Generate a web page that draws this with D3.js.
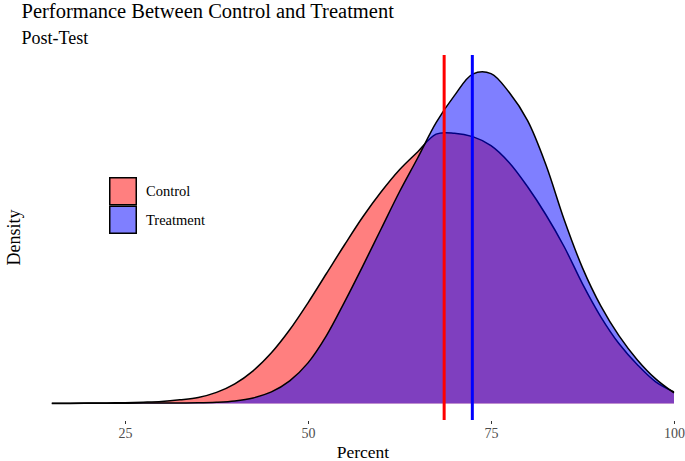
<!DOCTYPE html>
<html><head><meta charset="utf-8">
<script src="https://cdn.jsdelivr.net/npm/d3@7"></script>
<style>body{margin:0;background:#fff}svg{display:block}text{font-family:"Liberation Serif","Times New Roman",serif}</style>
</head><body>
<svg id="c" width="685" height="461"></svg>
<script>
const percent   = [15, 17.5, 20, 22.5, 25, 27.5, 30, 32.5, 35, 37.5, 40, 42.5, 45, 47.5, 50, 52.5, 55, 57.5, 60, 62.5, 65, 67.5, 70, 72.5, 75, 77.5, 80, 82.5, 85, 87.5, 90, 92.5, 95, 97.5, 100];
const control   = [0.00001, 0.00002, 0.00003, 0.00004, 0.00006, 0.0001, 0.00016, 0.0003, 0.0005, 0.00093, 0.00165, 0.00275, 0.00427, 0.00621, 0.00849, 0.01094, 0.01339, 0.01575, 0.01786, 0.01972, 0.02124, 0.02272, 0.0228, 0.02251, 0.02175, 0.02031, 0.01828, 0.01592, 0.01322, 0.01009, 0.00731, 0.00503, 0.00326, 0.00182, 0.00097];
const treatment = [0, 0, 0.00001, 0.00001, 0.00002, 0.00003, 0.00003, 0.00004, 0.00005, 0.0001, 0.00021, 0.00046, 0.00097, 0.0019, 0.00342, 0.0057, 0.00857, 0.01161, 0.01474, 0.01786, 0.02073, 0.02369, 0.02597, 0.02779, 0.02783, 0.02623, 0.02386, 0.02014, 0.0155, 0.01144, 0.00823, 0.0057, 0.00367, 0.00207, 0.00089];
const means = {Control: 68.6, Treatment: 72.45};
const xTicks = [25, 50, 75, 100];
const groups = ["Control", "Treatment"];
const fills = {Control: "#FF0000", Treatment: "#0000FF"};

const svg = d3.select("#c");
const panel = {top: 55, bottom: 420};
const x = d3.scaleLinear().domain([10.75, 104.25]).range([20.7, 705.1]);
const maxD = 0.028;
const y = d3.scaleLinear().domain([-maxD*0.05, maxD*1.05]).range([panel.bottom, panel.top]);

const series = {Control: control, Treatment: treatment};
const curve = d3.curveCatmullRom.alpha(0.5);
const area = d3.area().x((d,i)=>x(percent[i])).y0(y(0)).y1(d=>y(d)).curve(curve);
const line = d3.line().x((d,i)=>x(percent[i])).y(d=>y(d)).curve(curve);

groups.forEach(g=>{
  svg.append("path").datum(series[g]).attr("d", area).attr("fill", fills[g]).attr("fill-opacity", 0.5);
  svg.append("path").datum(series[g]).attr("d", line).attr("fill","none").attr("stroke","#000").attr("stroke-width",1.5);
});

groups.forEach(g=>{
  svg.append("line").attr("x1", x(means[g])).attr("x2", x(means[g]))
    .attr("y1", panel.top).attr("y2", panel.bottom)
    .attr("stroke", fills[g]).attr("stroke-width", 3);
});

// x axis
const ax = svg.append("g").attr("transform", `translate(0,${panel.bottom+1})`)
  .call(d3.axisBottom(x).tickValues(xTicks).tickSize(3).tickPadding(4));
ax.select(".domain").remove();
ax.selectAll(".tick line").attr("stroke","#333").attr("stroke-width",1);
ax.selectAll(".tick text").attr("fill","#4D4D4D").style("font-size","14px").style("font-family","Liberation Serif");

svg.append("text").attr("x", x(57.5)).attr("y", 458).attr("text-anchor","middle")
  .style("font-size","17.5px").attr("fill","#000").text("Percent");
svg.append("text").attr("transform", `translate(20,${(panel.top+panel.bottom)/2}) rotate(-90)`)
  .attr("text-anchor","middle").style("font-size","18px").text("Density");

svg.append("text").attr("x", 21.5).attr("y", 18).style("font-size","20.5px").text("Performance Between Control and Treatment");
svg.append("text").attr("x", 21.5).attr("y", 44).style("font-size","18px").text("Post-Test");

// legend
const lg = svg.append("g").attr("transform","translate(109,177)");
groups.forEach((g,i)=>{
  lg.append("rect").attr("x",0.75).attr("y", i*28.5+0.75).attr("width",26.5).attr("height",27)
    .attr("fill", fills[g]).attr("fill-opacity",0.5).attr("stroke","#000").attr("stroke-width",1.5);
  lg.append("text").attr("x", 37).attr("y", i*28.5+14).attr("dy","0.35em").style("font-size","14.5px").text(g);
});
</script>
</body></html>
